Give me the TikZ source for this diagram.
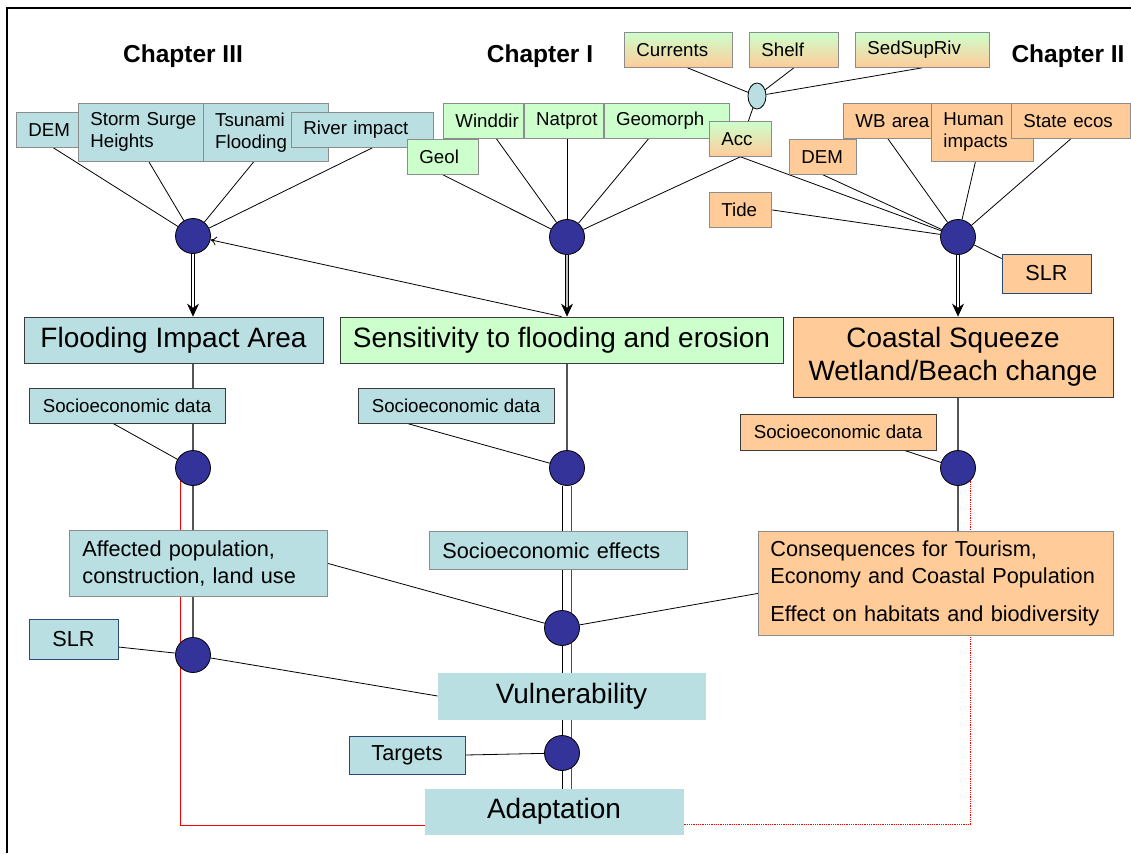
\documentclass[tikz,border=0pt]{standalone}
\usepackage{fontspec}
\setmainfont{Liberation Sans}
\usepackage{tikz}
\usetikzlibrary{shapes.geometric, arrows.meta, positioning, backgrounds}

\definecolor{boxblue}{RGB}{185,223,226}
\definecolor{boxgreen}{RGB}{204,255,204}
\definecolor{boxorange}{RGB}{255,204,153}
\definecolor{hubblue}{RGB}{51,51,153}
\definecolor{edgegray}{RGB}{140,140,140}
\definecolor{edgedark}{RGB}{60,60,60}
\definecolor{edgeblue}{RGB}{40,75,120}
\definecolor{stemgray}{RGB}{85,85,85}

\newcommand{\bigfs}{\fontsize{28}{33}\selectfont}
\newcommand{\midfs}{\fontsize{21.7}{27}\selectfont}
\newcommand{\smallfs}{\fontsize{18.7}{22}\selectfont}
\newcommand{\chapfs}{\fontsize{24.5}{28}\selectfont\bfseries}

\tikzstyle{chapter} = [inner sep=0pt, font=\chapfs]
\tikzstyle{input} = [rectangle, draw=edgegray, line width=0.8pt, anchor=north west, inner xsep=12pt, inner ysep=0pt, align=left, minimum height=35pt, font=\smallfs]
\tikzstyle{bluein} = [input, fill=boxblue]
\tikzstyle{greenin} = [input, fill=boxgreen]
\tikzstyle{orangein} = [input, fill=boxorange]
\tikzstyle{mixin} = [input, top color=boxgreen, bottom color=boxorange]
\tikzstyle{hub} = [circle, draw=black, fill=hubblue, line width=0.8pt, minimum size=35pt, inner sep=0pt]
\tikzstyle{mainbox} = [rectangle, draw=edgedark, line width=0.8pt, inner sep=0pt, minimum height=46pt, align=center, font=\bigfs]
\tikzstyle{sociobox} = [rectangle, draw=edgedark, line width=0.8pt, inner sep=0pt, minimum width=196pt, minimum height=35pt, font=\smallfs]
\tikzstyle{midbox} = [rectangle, draw=edgegray, line width=0.8pt, anchor=north west, inner xsep=13pt, inner ysep=0pt, align=left, font=\midfs]
\tikzstyle{slrbox} = [rectangle, draw=edgeblue, line width=0.8pt, inner sep=0pt, minimum width=89pt, minimum height=39pt, font=\midfs]
\tikzstyle{fan} = [line width=0.8pt, draw=black]
\tikzstyle{stem} = [line width=1.1pt, draw=stemgray]
\tikzstyle{redline} = [line width=0.8pt, draw=red]
\tikzstyle{reddot} = [line width=0.8pt, draw=red, densely dotted]
\tikzstyle{dblarrow} = [draw=black, line width=0.7pt, double=white, double distance=2.2pt, -{Stealth[length=13pt, width=12pt]}]
\tikzstyle{thinarrow} = [line width=0.8pt, draw=black, -{To[length=6pt, width=9pt]}]

\begin{document}
\begin{tikzpicture}[x=1pt, y=-1pt, node distance=0pt]
  \useasboundingbox (0,0) rectangle (1131,853);
  \draw [line width=1.2pt] (7,853) -- (7,8) -- (1131,8);

  % Chapter titles
  \node (chapIII) [chapter] at (183,56) {Chapter III};
  \node (chapI) [chapter] at (540,56) {Chapter I};
  \node (chapII) [chapter] at (1068,56) {Chapter II};

  % Chapter III inputs
  \node (demA) [bluein, text width=50pt] at (16,112) {DEM};
  \node (surge) [bluein, text width=101pt, minimum height=58pt] at (78,103) {Storm~Surge\\Heights};
  \node (tsunami) [bluein, text width=101pt, minimum height=58pt, right=-1pt of surge] {Tsunami\\Flooding};
  \node (river) [bluein, text width=118pt] at (291,112) {River~impact};

  % Chapter I inputs
  \node (winddir) [greenin, text width=56pt] at (443,103) {Winddir};
  \node (natprot) [greenin, text width=55pt, right=0pt of winddir] {Natprot};
  \node (geomorph) [greenin, text width=101pt, right=0pt of natprot] {Geomorph};
  \node (geol) [greenin, text width=47pt] at (407,139) {Geol};
  \node (acc) [mixin, text width=38pt] at (709,121) {Acc};

  % Shared inputs
  \node (currents) [mixin, text width=84pt] at (624,32) {Currents};
  \node (shelf) [mixin, text width=65pt] at (749,32) {Shelf};
  \node (sedsup) [mixin, text width=110pt] at (855,32) {SedSupRiv};
  \node (junction) [ellipse, draw=black, fill=boxblue, line width=0.8pt, minimum width=18pt, minimum height=26pt, inner sep=0pt] at (757,96) {};

  % Chapter II inputs
  \node (wbarea) [orangein, text width=65pt] at (843,103) {WB~area};
  \node (human) [orangein, text width=78pt, minimum height=58pt] at (931,103) {Human\\impacts};
  \node (stateecos) [orangein, text width=95pt] at (1011,103) {State~ecos};
  \node (demB) [orangein, text width=43pt] at (789,139) {DEM};
  \node (tide) [orangein, text width=38pt] at (709,192) {Tide};
  \node (slrB) [slrbox, fill=boxorange] at (1046.5,273.5) {SLR};

  % Hubs
  \node (hubIII) [hub] at (193,236) {};
  \node (hubI) [hub] at (567,237) {};
  \node (hubII) [hub] at (958,237) {};

  % Results
  \node (flood) [mainbox, fill=boxblue, minimum width=299pt] at (173.5,340) {Flooding Impact Area};
  \node (sens) [mainbox, fill=boxgreen, minimum width=443pt] at (561.5,340) {Sensitivity to flooding and erosion};
  \node (squeeze) [mainbox, fill=boxorange, minimum width=320pt, minimum height=80pt] at (953,357) {Coastal Squeeze\\Wetland/Beach change};

  % Socioeconomic data
  \node (socA) [sociobox, fill=boxblue] at (127,405.5) {Socioeconomic data};
  \node (socB) [sociobox, fill=boxblue] at (456,405.5) {Socioeconomic data};
  \node (socC) [sociobox, fill=boxorange, minimum height=36pt] at (838,432) {Socioeconomic data};

  \node (hubA) [hub] at (193,468) {};
  \node (hubB) [hub] at (567,468) {};
  \node (hubC) [hub] at (958,468) {};

  % Effects
  \node (affected) [midbox, fill=boxblue, text width=232pt, minimum height=66pt] at (69,530) {Affected population,\\construction, land use};
  \node (effects) [midbox, fill=boxblue, text width=232pt, minimum height=38pt] at (429,531) {Socioeconomic effects};
  \node (conseq) [midbox, fill=boxorange, inner xsep=12pt, text width=331pt, minimum height=104pt] at (758,531) {Consequences for Tourism,\\Economy and Coastal Population\\[11pt]Effect on habitats and biodiversity};

  \node (hubE) [hub] at (562,628) {};
  \node (slrA) [slrbox, fill=boxblue, minimum height=40pt] at (73.5,639) {SLR};
  \node (hubS) [hub] at (193,655) {};

  % Vulnerability and adaptation
  \node (vuln) [mainbox, fill=boxblue, draw=boxblue, minimum width=267pt] at (571.5,696) {Vulnerability};
  \node (targets) [slrbox, fill=boxblue, minimum width=116pt, minimum height=38pt] at (407,755) {Targets};
  \node (hubT) [hub] at (562,753) {};
  \node (adapt) [mainbox, fill=boxblue, draw=boxblue, minimum width=258pt, minimum height=45pt] at (554,811.5) {Adaptation};

  \coordinate (redL) at ([yshift=9pt]adapt.south west);
  \coordinate (redR) at ([yshift=10pt]adapt.south east);
  \coordinate (redM) at ([xshift=4pt]hubB.south);

  % Connectors
  \begin{pgfonlayer}{background}
    \draw [fan] (demA.south) -- (hubIII);
    \draw [fan] ([xshift=8pt]surge.south) -- (hubIII);
    \draw [fan] ([xshift=-12pt]tsunami.south) -- (hubIII);
    \draw [fan] ([xshift=10pt]river.south) -- (hubIII);

    \draw [fan] (geol.south) -- (hubI);
    \draw [fan] ([xshift=13pt]winddir.south) -- (hubI);
    \draw [fan] (hubI |- natprot.south) -- (hubI);
    \draw [fan] ([xshift=-18pt]geomorph.south) -- (hubI);
    \draw [fan] (acc.south) -- (hubI);

    \draw [fan] ([xshift=9pt]currents.south) -- (junction);
    \draw [fan] (shelf.south) -- (junction);
    \draw [fan] (sedsup.south) -- (junction);
    \draw [fan] (junction) -- ([xshift=8pt]acc.north);

    \draw [fan] (acc.south) -- (hubII);
    \draw [fan] (demB.south) -- (hubII);
    \draw [fan] (tide.east) -- (hubII);
    \draw [fan] (wbarea.south) -- (hubII);
    \draw [fan] ([xshift=-7pt]human.south) -- (hubII);
    \draw [fan] (stateecos.south) -- (hubII);
    \draw [fan] (hubII) -- ([yshift=-5pt]slrB.north west);

    \draw [dblarrow] (hubIII) -- (hubIII |- flood.north);
    \draw [dblarrow, double=lightgray] (hubI) -- (hubI |- sens.north);
    \draw [dblarrow] (hubII) -- (hubII |- squeeze.north);
    \draw [thinarrow] (sens.north) -- (hubIII);

    \draw [stem] (hubA |- flood.south) -- (hubA) -- (hubS);
    \draw [fan] ([xshift=-14pt]socA.south) -- (hubA);
    \draw [redline] (hubA.south west) |- (redL);

    \draw [stem] (hubB |- sens.south) -- (hubB);
    \draw [fan] ([xshift=-49pt]socB.south) -- (hubB);
    \draw [fan] (hubE |- hubB.south) -- (hubE) -- (hubT) -- (hubT |- adapt.north);
    \draw [redline] (redM) -- (redM |- adapt.north);

    \draw [stem] (hubC |- squeeze.south) -- (hubC) -- (hubC |- conseq.north);
    \draw [fan] ([xshift=-32pt]socC.south east) -- (hubC);
    \draw [reddot] (hubC.south east) |- (redR);

    \draw [fan] (affected.east) -- (hubE);
    \draw [fan] ([yshift=-10pt]conseq.west) -- (hubE);
    \draw [fan] ([yshift=-8pt]slrA.east) -- (hubS);
    \draw [fan] (hubS) -- (vuln.west);
    \draw [fan] (targets.east) -- (hubT);
  \end{pgfonlayer}
\end{tikzpicture}
\end{document}
